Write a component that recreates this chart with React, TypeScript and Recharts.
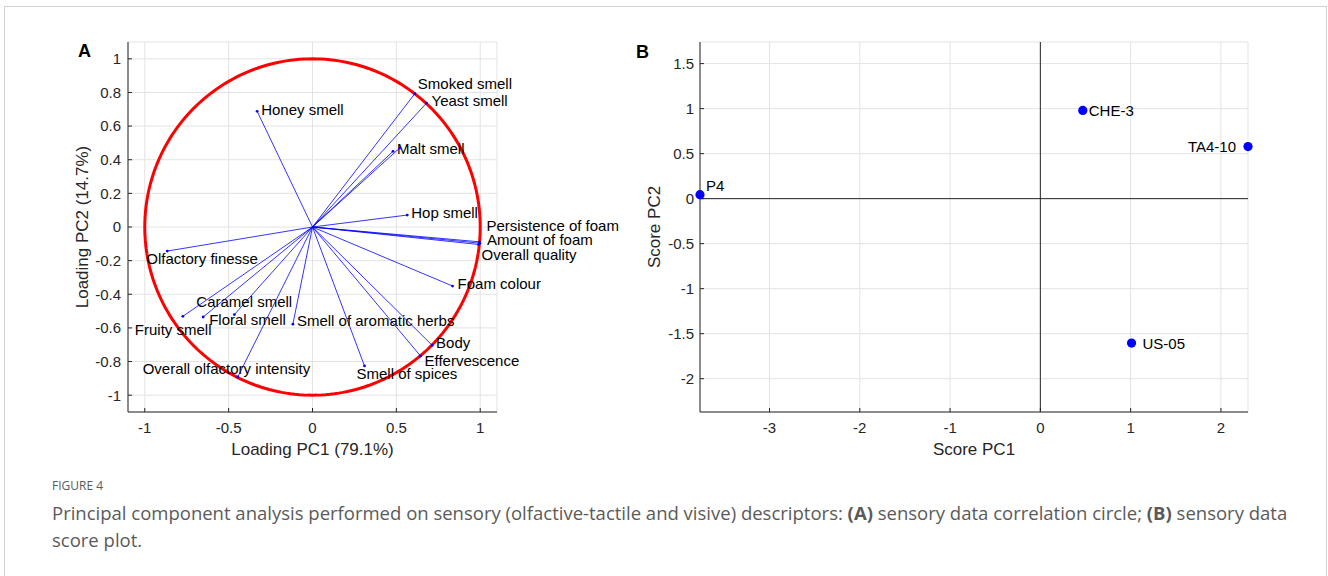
import React from "react";
import {
  ScatterChart,
  Scatter,
  XAxis,
  YAxis,
  CartesianGrid,
  ReferenceLine,
} from "recharts";

const FONT = '"Liberation Sans", Arial, Helvetica, sans-serif';
const INK = "#262626";
const GRID = "#e3e3e3";
const BLUE = "#0000ff";

// Panel A: PC1 / PC2 loadings of the sensory descriptors
const descriptors = [
  "Honey smell",
  "Smoked smell",
  "Yeast smell",
  "Malt smell",
  "",
  "Hop smell",
  "Persistence of foam",
  "Amount of foam",
  "Overall quality",
  "Foam colour",
  "Body",
  "Effervescence",
  "Smell of spices",
  "Smell of aromatic herbs",
  "Overall olfactory intensity",
  "Caramel smell",
  "Floral smell",
  "Fruity smell",
  "Olfactory finesse",
];
const loadingPC1 = [
  -0.33, 0.61, 0.68, 0.48, 0.52, 0.565, 0.995, 0.998, 0.99, 0.835, 0.713,
  0.644, 0.31, -0.117, -0.446, -0.466, -0.652, -0.773, -0.866,
];
const loadingPC2 = [
  0.688, 0.793, 0.737, 0.45, 0.47, 0.071, -0.088, -0.096, -0.104, -0.351,
  -0.703, -0.767, -0.826, -0.578, -0.892, -0.521, -0.535, -0.531, -0.143,
];
const loadingTicksX = [-1, -0.5, 0, 0.5, 1];
const loadingTicksY = [-1, -0.8, -0.6, -0.4, -0.2, 0, 0.2, 0.4, 0.6, 0.8, 1];

// Panel B: scores of the four strains
const strains = ["P4", "CHE-3", "TA4-10", "US-05"];
const scorePC1 = [-3.77, 0.47, 2.3, 1.01];
const scorePC2 = [0.044, 0.98, 0.578, -1.604];
const scoreTicksX = [-3, -2, -1, 0, 1, 2];
const scoreTicksY = [-2, -1.5, -1, -0.5, 0, 0.5, 1, 1.5];

// label placement next to each tip: [dx, dy, anchor]
const loadingLabelOffset: Record<string, [number, number, string]> = {
  "Honey smell": [4, -2, "start"],
  "Smoked smell": [3, -10, "start"],
  "Yeast smell": [5, -3, "start"],
  "Malt smell": [4, -3, "start"],
  "Hop smell": [4, -3, "start"],
  "Persistence of foam": [7, -16, "start"],
  "Amount of foam": [7, -4, "start"],
  "Overall quality": [3, 10, "start"],
  "Foam colour": [5, -3, "start"],
  Body: [4, -3, "start"],
  Effervescence: [4, 5, "start"],
  "Smell of spices": [-8, 8, "start"],
  "Smell of aromatic herbs": [4, -4, "start"],
  "Overall olfactory intensity": [-95, -9, "start"],
  "Caramel smell": [-38, -13, "start"],
  "Floral smell": [6, 3, "start"],
  "Fruity smell": [-48, 13, "start"],
  "Olfactory finesse": [-21, 7, "start"],
};
const scoreLabelOffset: Record<string, [number, number, string]> = {
  P4: [6, -9, "start"],
  "CHE-3": [6, 0, "start"],
  "TA4-10": [-12, 0, "end"],
  "US-05": [11, 0, "start"],
};

// unit correlation circle
const circlePoints = Array.from({ length: 241 }, (_, i) => {
  const t = (i / 240) * 2 * Math.PI;
  return { x: Math.cos(t), y: Math.sin(t) };
});

const loadings = descriptors.map((name, i) => ({
  name,
  x: loadingPC1[i],
  y: loadingPC2[i],
}));
const scores = strains.map((name, i) => ({
  name,
  x: scorePC1[i],
  y: scorePC2[i],
}));

const tickStyle = { fill: INK, fontSize: 15, fontFamily: FONT };

const xTitle = (text: string) => (props: any) => {
  const vb = props.viewBox;
  return (
    <text
      x={vb.x + vb.width / 2}
      y={vb.y + 43}
      textAnchor="middle"
      fontSize={17}
      fontFamily={FONT}
      fill={INK}
    >
      {text}
    </text>
  );
};

const yTitle = (text: string) => (props: any) => {
  const vb = props.viewBox;
  const x = vb.x + 20;
  const y = vb.y + vb.height / 2;
  return (
    <text
      x={x}
      y={y}
      transform={`rotate(-90 ${x} ${y})`}
      textAnchor="middle"
      fontSize={17}
      fontFamily={FONT}
      fill={INK}
    >
      {text}
    </text>
  );
};

const NoDot = () => <g />;

const LoadingTip = (props: any) => {
  const { cx, cy, payload } = props;
  if (payload.origin) return <g />;
  const off = loadingLabelOffset[payload.name];
  return (
    <g>
      <circle cx={cx} cy={cy} r={1.4} fill={BLUE} />
      {off && (
        <text
          x={cx + off[0]}
          y={cy + off[1]}
          textAnchor={off[2]}
          dominantBaseline="central"
          fontSize={15}
          fontFamily={FONT}
          fill="#000"
        >
          {payload.name}
        </text>
      )}
    </g>
  );
};

const ScoreDot = (props: any) => {
  const { cx, cy, payload } = props;
  const off = scoreLabelOffset[payload.name];
  return (
    <g>
      <circle cx={cx} cy={cy} r={4.6} fill={BLUE} />
      <text
        x={cx + off[0]}
        y={cy + off[1]}
        textAnchor={off[2]}
        dominantBaseline="central"
        fontSize={15}
        fontFamily={FONT}
        fill="#000"
      >
        {payload.name}
      </text>
    </g>
  );
};

// plot area of panel A spans x 128..497, y 42..412
const LoadingPlot = () => (
  <ScatterChart
    width={640}
    height={470}
    margin={{ top: 42, right: 143, bottom: 18, left: 68 }}
  >
    <CartesianGrid stroke={GRID} />
    <XAxis
      type="number"
      dataKey="x"
      domain={[-1.1, 1.1]}
      ticks={loadingTicksX}
      height={40}
      tickSize={-4}
      tickMargin={14}
      tickLine={{ stroke: INK }}
      axisLine={{ stroke: INK }}
      tick={tickStyle}
      label={xTitle("Loading PC1 (79.1%)")}
    />
    <YAxis
      type="number"
      dataKey="y"
      domain={[-1.1, 1.1]}
      ticks={loadingTicksY}
      width={60}
      tickSize={-4}
      tickMargin={11}
      tickLine={{ stroke: INK }}
      axisLine={{ stroke: INK }}
      tick={tickStyle}
      label={yTitle("Loading PC2 (14.7%)")}
    />
    <Scatter
      data={circlePoints}
      line={{ stroke: "#ff0000", strokeWidth: 3 }}
      shape={NoDot}
      isAnimationActive={false}
    />
    {loadings.map((d, i) => (
      <Scatter
        key={i}
        data={[{ x: 0, y: 0, origin: true }, d]}
        line={{ stroke: BLUE, strokeWidth: 0.8 }}
        shape={LoadingTip}
        isAnimationActive={false}
      />
    ))}
  </ScatterChart>
);

// plot area of panel B spans x 700..1248, y 42..412
const ScorePlot = () => (
  <ScatterChart
    width={660}
    height={470}
    margin={{ top: 42, right: 32, bottom: 18, left: 20 }}
  >
    <CartesianGrid stroke={GRID} />
    <XAxis
      type="number"
      dataKey="x"
      domain={[-3.77, 2.3]}
      ticks={scoreTicksX}
      height={40}
      tickSize={-4}
      tickMargin={14}
      tickLine={{ stroke: INK }}
      axisLine={{ stroke: INK }}
      tick={tickStyle}
      label={xTitle("Score PC1")}
    />
    {/* top and right edges close the box, ticks pointing inward */}
    <XAxis
      xAxisId="top"
      orientation="top"
      type="number"
      dataKey="x"
      domain={[-3.77, 2.3]}
      ticks={scoreTicksX}
      height={0}
      tickSize={-4}
      tick={false}
      tickLine={{ stroke: INK }}
      axisLine={{ stroke: INK }}
    />
    <YAxis
      type="number"
      dataKey="y"
      domain={[-2.37, 1.74]}
      ticks={scoreTicksY}
      width={60}
      tickSize={-4}
      tickMargin={10}
      tickLine={{ stroke: INK }}
      axisLine={{ stroke: INK }}
      tick={tickStyle}
      label={yTitle("Score PC2")}
    />
    <YAxis
      yAxisId="right"
      orientation="right"
      type="number"
      dataKey="y"
      domain={[-2.37, 1.74]}
      ticks={scoreTicksY}
      width={0}
      tickSize={-4}
      tick={false}
      tickLine={{ stroke: INK }}
      axisLine={{ stroke: INK }}
    />
    <ReferenceLine x={0} stroke={INK} strokeWidth={1} />
    <ReferenceLine y={0} stroke={INK} strokeWidth={1} />
    <Scatter
      data={scores}
      xAxisId="top"
      yAxisId="right"
      shape={NoDot}
      isAnimationActive={false}
    />
    <Scatter data={scores} shape={ScoreDot} isAnimationActive={false} />
  </ScatterChart>
);

const panelLetter = {
  position: "absolute" as const,
  fontFamily: FONT,
  fontWeight: 700,
  fontSize: 18,
  lineHeight: "18px",
  color: "#000",
};

export default function App() {
  return (
    <div
      style={{
        position: "absolute",
        left: 0,
        top: 0,
        width: 1328,
        height: 576,
        background: "#fff",
        overflow: "hidden",
      }}
    >
      <div
        style={{
          position: "absolute",
          left: 4,
          top: 6,
          width: 1321,
          height: 640,
          border: "1px solid #d2d2d2",
        }}
      />
      <div style={{ position: "absolute", left: 620, top: 0 }}>
        <ScorePlot />
      </div>
      <div style={{ position: "absolute", left: 0, top: 0 }}>
        <LoadingPlot />
      </div>
      <div style={{ ...panelLetter, left: 78, top: 42 }}>A</div>
      <div style={{ ...panelLetter, left: 636, top: 43 }}>B</div>
      <div
        style={{
          position: "absolute",
          left: 52,
          top: 478,
          fontFamily: '"Open Sans", sans-serif',
          fontSize: 12,
          lineHeight: "16px",
          color: "#5a5a5a",
        }}
      >
        FIGURE 4
      </div>
      <div
        style={{
          position: "absolute",
          left: 52,
          top: 499,
          fontFamily: '"Open Sans", sans-serif',
          fontSize: 18.5,
          lineHeight: "27px",
          color: "#5a5a5a",
          whiteSpace: "nowrap",
        }}
      >
        Principal component analysis performed on sensory (olfactive-tactile
        and visive) descriptors: <b>(A)</b> sensory data correlation circle;{" "}
        <b>(B)</b> sensory data
        <br />
        score plot.
      </div>
    </div>
  );
}
